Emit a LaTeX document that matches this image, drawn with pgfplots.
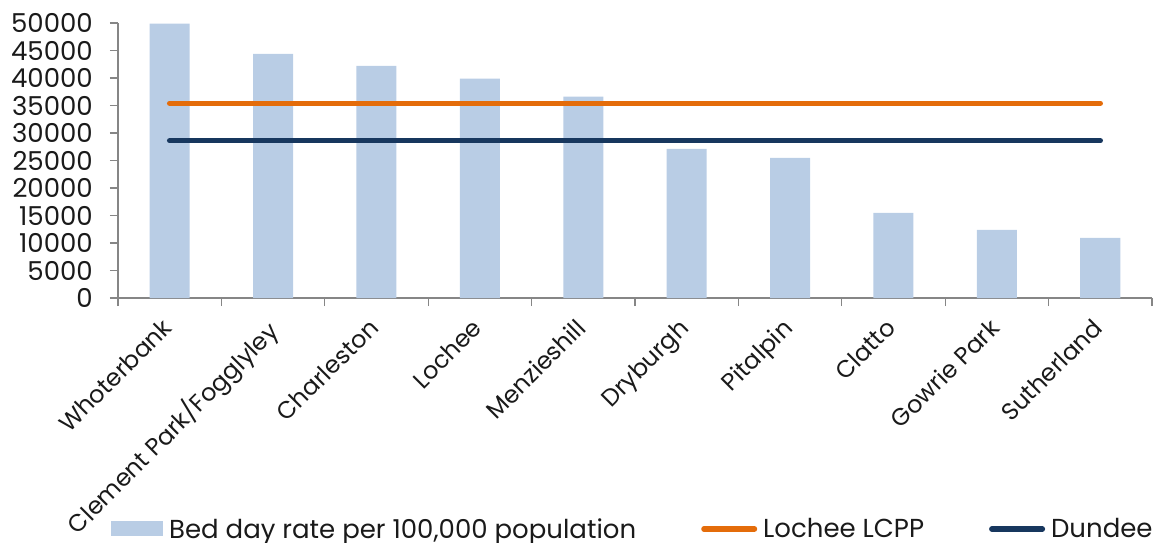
\documentclass[border=0pt]{standalone}
\usepackage{pgfplots}
\pgfplotsset{compat=1.18}
\usepackage{fontspec}
\setmainfont{Poppins}
\definecolor{barblue}{HTML}{B9CDE5}
\definecolor{lcpp}{HTML}{E46C0A}
\definecolor{dundee}{HTML}{17375E}
\definecolor{axgray}{HTML}{868686}
\definecolor{txt}{HTML}{1A1A1A}
\pgfplotsset{
  barleg/.style={legend image code/.code={\fill[##1] (-3pt,-7.5pt) rectangle (49pt,7.5pt);}},
  lineleg/.style={legend image code/.code={\draw[##1] (2.75pt,0pt) -- (53.25pt,0pt);}},
}

\begin{document}
\begin{tikzpicture}
\begin{axis}[
  scale only axis, width=1034pt, height=275pt,
  xmin=-0.5, xmax=9.5, ymin=0, ymax=50000,
  axis x line=bottom, axis y line=left,
  axis line style={-, axgray, line width=1.3pt},
  tick align=outside,
  major tick length=8pt,
  tick style={axgray, line width=1.3pt},
  xtick={-0.5,0.5,...,9.5}, xticklabels={},
  extra x ticks={0,1,2,3,4,5,6,7,8,9},
  extra x tick labels={Whoterbank,Clement Park/Fogglyley,Charleston,Lochee,Menzieshill,Dryburgh,Pitalpin,Clatto,Gowrie Park,Sutherland},
  extra x tick style={major tick length=0pt},
  x tick label style={font=\fontsize{24}{26}\selectfont, text=txt, xshift=-9pt, yshift=-16pt, rotate=45, anchor=north east, inner sep=2pt},
  ytick={0,5000,...,50000},
  y tick label style={font=\fontsize{26}{28}\selectfont, text=txt, inner sep=1pt, xshift=-16pt},
  yticklabel style={/pgf/number format/.cd, fixed, set thousands separator={}, assume math mode=true},
  scaled y ticks=false,
  legend columns=3,
  legend style={at={(0.4975,-0.840)}, anchor=center, draw=none, fill=none,
    font=\fontsize{26}{28}\selectfont, text=txt,
    nodes={inner sep=1pt},
    /tikz/every odd column/.append style={column sep=5pt},
    /tikz/every even column/.append style={column sep=64pt}},
]
\addplot[ybar, bar width=40pt, fill=barblue, draw=none, barleg]
  coordinates {(0,49900)(1,44400)(2,42200)(3,39900)(4,36600)(5,27100)(6,25500)(7,15500)(8,12400)(9,10950)};
\addlegendentry{Bed day rate per 100,000 population}
\addplot[lcpp, line width=5.5pt, line cap=round, mark=none, lineleg]
  coordinates {(0,35400)(1,35400)(2,35400)(3,35400)(4,35400)(5,35400)(6,35400)(7,35400)(8,35400)(9,35400)};
\addlegendentry{Lochee LCPP}
\addplot[dundee, line width=5.5pt, line cap=round, mark=none, lineleg]
  coordinates {(0,28600)(1,28600)(2,28600)(3,28600)(4,28600)(5,28600)(6,28600)(7,28600)(8,28600)(9,28600)};
\addlegendentry{Dundee}
\coordinate (o) at (rel axis cs:0,0);
\end{axis}
\pgfresetboundingbox
\path[use as bounding box] (o) ++(-118pt,-245pt) rectangle ++(1159pt,543pt);
\end{tikzpicture}
\end{document}
